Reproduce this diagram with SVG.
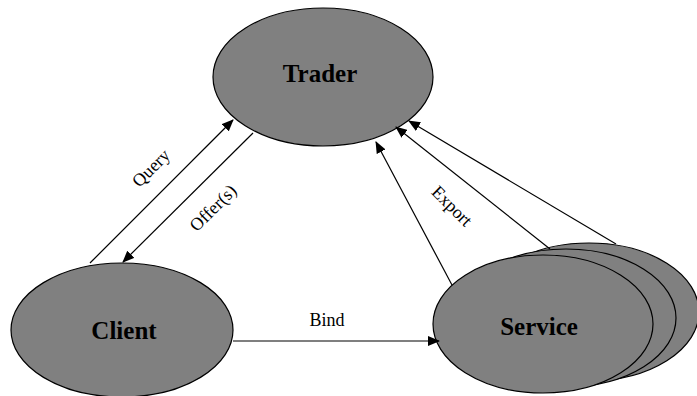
<svg xmlns="http://www.w3.org/2000/svg" width="697" height="396" viewBox="0 0 697 396">
<style>
.node{fill:#808080;stroke:#000;stroke-width:1.2}
.title{font-family:"Liberation Serif",serif;font-weight:bold;font-size:25px;fill:#000;text-anchor:middle}
.lbl{font-family:"Liberation Serif",serif;font-size:18px;fill:#000;text-anchor:middle}
.edge{stroke:#000;stroke-width:1.2;fill:none;marker-end:url(#arr)}
</style>
<defs>
<marker id="arr" markerWidth="12" markerHeight="10" refX="11" refY="5" orient="auto" markerUnits="userSpaceOnUse">
<path d="M0,0 L12,5 L0,10 Z" fill="#000"/>
</marker>
</defs>
<g id="trader">
<ellipse class="node" cx="323" cy="77" rx="110" ry="69"/>
<text class="title" x="320" y="82">Trader</text>
</g>
<g id="client">
<ellipse class="node" cx="122" cy="330" rx="111" ry="67"/>
<text class="title" x="124" y="339">Client</text>
</g>
<g id="service">
<ellipse class="node" cx="589" cy="312" rx="110" ry="69"/>
<ellipse class="node" cx="566" cy="318" rx="110" ry="69"/>
<ellipse class="node" cx="543" cy="324" rx="110" ry="69"/>
<text class="title" x="539" y="335">Service</text>
</g>
<g id="connectors">
<line class="edge" x1="90" y1="263" x2="233" y2="120"/>
<line class="edge" x1="253" y1="133" x2="123" y2="262"/>
<line class="edge" x1="233" y1="341" x2="439" y2="341"/>
<line class="edge" x1="452" y1="285" x2="376" y2="142"/>
<line class="edge" x1="550" y1="249" x2="396" y2="127"/>
<line class="edge" x1="616" y1="244" x2="409" y2="121"/>
<text class="lbl" transform="translate(151,168) rotate(-45)" y="6">Query</text>
<text class="lbl" transform="translate(213,208) rotate(-45)" y="6">Offer(s)</text>
<text class="lbl" transform="translate(452,206) rotate(45)" y="6">Export</text>
<text class="lbl" x="327" y="326">Bind</text>
</g>
</svg>
